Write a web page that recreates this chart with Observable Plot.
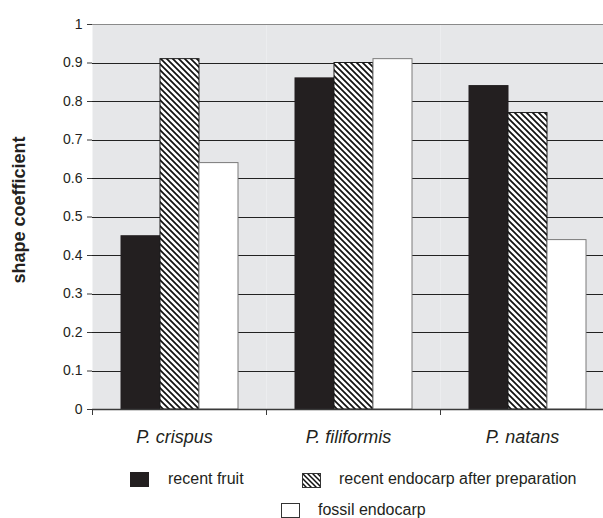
<!DOCTYPE html>
<html><head><meta charset="utf-8">
<script src="https://cdn.jsdelivr.net/npm/d3@7"></script>
<script src="https://cdn.jsdelivr.net/npm/@observablehq/plot@0.6"></script>
<style>
body{margin:0;background:#fff;overflow:hidden}
#wrap{position:relative;width:603px;height:518px;overflow:hidden;font-family:"Liberation Sans",Arial,sans-serif;color:#231f20}
#chart svg{display:block}
g[aria-label="fx-axis tick label"] text{font-style:italic;font-size:18px}
.lg{position:absolute;font-size:16px;line-height:16px;white-space:nowrap}
.sw{position:absolute;display:block}
#ylabel{position:absolute;width:200px;left:-81px;top:200px;height:20px;line-height:20px;text-align:center;font-weight:bold;font-size:18px;transform:rotate(-90deg);transform-origin:100px 10px;white-space:nowrap}
</style></head><body>
<div id="wrap"><div id="chart"></div><div id="ylabel"></div><div id="legend"></div></div>
<script>
const species = ["P. crispus", "P. filiformis", "P. natans"];
const seriesNames = ["recent fruit", "recent endocarp after preparation", "fossil endocarp"];
const recentFruit = [0.45, 0.86, 0.84];
const recentEndocarp = [0.91, 0.90, 0.77];
const fossilEndocarp = [0.64, 0.91, 0.44];
const yTicks = [0, 0.1, 0.2, 0.3, 0.4, 0.5, 0.6, 0.7, 0.8, 0.9, 1];
const gridTicks = [0.1, 0.2, 0.3, 0.4, 0.5, 0.6, 0.7, 0.8, 0.9];
const yTitle = "shape coefficient";

const valuesBySeries = [recentFruit, recentEndocarp, fossilEndocarp];
const data = species.flatMap((sp, i) => seriesNames.map((s, j) => ({species: sp, series: s, value: valuesBySeries[j][i]})));
const fills = ["#231f20", "url(#hatch)", "#ffffff"];
const strokes = ["#231f20", "#1a1a1a", "#7a7a7a"];

const barMarks = seriesNames.map((s, j) => Plot.barY(data.filter(d => d.series === s), {
  fx: "species", x: "series", y: "value", fill: fills[j], stroke: strokes[j], strokeWidth: 1
}));

const chart = Plot.plot({
  width: 603, height: 460,
  marginLeft: 92, marginRight: 0, marginTop: 24, marginBottom: 51,
  style: {fontFamily: "'Liberation Sans', Arial, sans-serif", fontSize: "14px", color: "#231f20", background: "transparent"},
  fx: {domain: species, range: [92, 614], padding: 0},
  x: {domain: seriesNames, paddingInner: 0, paddingOuter: 0.73, axis: null},
  y: {domain: [0, 1]},
  marks: [
    Plot.frame({fill: "#e6e7e9"}),
    Plot.ruleY(gridTicks, {stroke: "#222", strokeWidth: 1, shapeRendering: "crispEdges"}),
    Plot.ruleY([1], {stroke: "#8a8a8a", strokeWidth: 1, shapeRendering: "crispEdges"}),
    ...barMarks,
    Plot.ruleY([0], {stroke: "#3a3a3a", strokeWidth: 1.5}),
    Plot.frame({anchor: "left", insetTop: 385, insetBottom: -5, stroke: "#3a3a3a"}),
    Plot.axisY({ticks: yTicks, tickFormat: d => String(d), tickSize: 5, tickPadding: 5,
      label: null, line: true, stroke: "#3a3a3a"}),
    Plot.axisFx({anchor: "bottom", tickSize: 0, tickPadding: 21, dx: -5, label: null})
  ]
});

d3.select(chart).insert("defs", ":first-child").html(
  '<pattern id="hatch" patternUnits="userSpaceOnUse" width="6" height="6">' +
  '<rect width="6" height="6" fill="#fff"/>' +
  '<path d="M-1,-1L7,7M-1,5L1,7M5,-1L7,1" stroke="#111" stroke-width="1.7"/></pattern>');
document.getElementById("chart").appendChild(chart);
document.getElementById("ylabel").textContent = yTitle;

// legend
const legend = document.getElementById("legend");
const items = [
  {sx: 130, sy: 472, tx: 168, ty: 471},
  {sx: 302, sy: 473, tx: 339, ty: 471},
  {sx: 281, sy: 503, tx: 318, ty: 502}
];
seriesNames.forEach((s, j) => {
  const it = items[j];
  const sw = document.createElementNS("http://www.w3.org/2000/svg", "svg");
  sw.setAttribute("width", 19); sw.setAttribute("height", 15);
  sw.setAttribute("class", "sw");
  sw.style.left = it.sx + "px"; sw.style.top = it.sy + "px";
  sw.innerHTML = '<defs><pattern id="hatchL" patternUnits="userSpaceOnUse" width="5" height="5">' +
    '<rect width="5" height="5" fill="#fff"/><path d="M-1,-1L6,6M-1,4L1,6M4,-1L6,1" stroke="#111" stroke-width="1.5"/></pattern></defs>' +
    `<rect x="0.5" y="0.5" width="18" height="14" fill="${j === 1 ? "url(#hatchL)" : fills[j]}" stroke="${j === 0 ? fills[0] : "#333"}"/>`;
  legend.appendChild(sw);
  const t = document.createElement("div");
  t.className = "lg"; t.textContent = s;
  t.style.left = it.tx + "px"; t.style.top = it.ty + "px";
  legend.appendChild(t);
});
legend.style.position = "absolute"; legend.style.left = "0"; legend.style.top = "0";
</script>
</body></html>
